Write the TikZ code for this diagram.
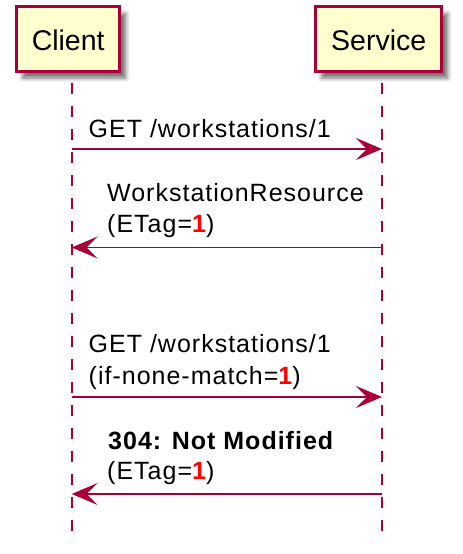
\documentclass[tikz,border=0pt]{standalone}
\usepackage{fontspec}
\setmainfont{Liberation Sans}
\newfontfamily\msgfont[LetterSpace=4]{Liberation Sans}
\usetikzlibrary{arrows.meta,shadows.blur}
\definecolor{umlred}{HTML}{A80036}
\definecolor{umlfill}{HTML}{FEFECE}
\tikzset{pa/.style = {rectangle, draw=umlred, fill=umlfill, line width=3pt, minimum height=64.7pt, inner sep=0pt,
                      text height=24pt, text depth=0pt, font=\fontsize{28.5}{34}\selectfont,
                      blur shadow={shadow xshift=6pt, shadow yshift=-7pt, shadow blur radius=4pt, shadow opacity=55}},
           ll/.style = {draw=umlred, line width=2pt, dash pattern=on 11pt off 12pt},
           ms/.style = {draw=umlred, line width=1.7pt, -{Stealth[length=26pt, width=22pt, inset=11pt]}},
           tx/.style = {anchor=base west, inner sep=0pt, font=\msgfont\fontsize{25}{32}\selectfont}}
\newcommand{\etagval}{\textcolor{red}{\bfseries 1}}

\begin{document}
\begin{tikzpicture}[x=1pt, y=-1pt]
    \useasboundingbox (0,0) rectangle (463,554);
    \node[pa, minimum width=103.3pt] (client)  at (68.2,38.8)  {Client};
    \node[pa, minimum width=126.3pt] (service) at (378.7,38.8) {Service};
    \coordinate (c0) at (71.7,83);  \coordinate (c9) at (71.7,531);
    \coordinate (s0) at (382,83);   \coordinate (s9) at (382,531);
    \draw[ll] (c0) -- (c9);
    \draw[ll] (s0) -- (s9);
    \coordinate (c1) at (71.7,149);   \coordinate (s1) at (382,149);
    \coordinate (c2) at (71.7,247.5); \coordinate (s2) at (382,247.5);
    \coordinate (c3) at (71.7,397);   \coordinate (s3) at (382,397);
    \coordinate (c4) at (71.7,494);   \coordinate (s4) at (382,494);
    \node[tx] (get1)  at (88.5,137)  {GET /workstations/1};
    \node[tx] (res)   at (107,201)   {WorkstationResource};
    \node[tx] (etag1) at (107,232.5) {(ETag=\etagval)};
    \node[tx] (get2)  at (88.5,352.5) {GET /workstations/1};
    \node[tx] (inm)   at (88.5,384.5) {(if-none-match=\etagval)};
    \node[tx] (nmod)  at (108,449)   {\bfseries 304: Not Modified};
    \node[tx] (etag2) at (107,479.5) {(ETag=\etagval)};
    \draw[ms] (c1) -- (s1);
    \draw[ms] (s2) -- (c2);
    \draw[ms] (c3) -- (s3);
    \draw[ms] (s4) -- (c4);
\end{tikzpicture}
\end{document}
